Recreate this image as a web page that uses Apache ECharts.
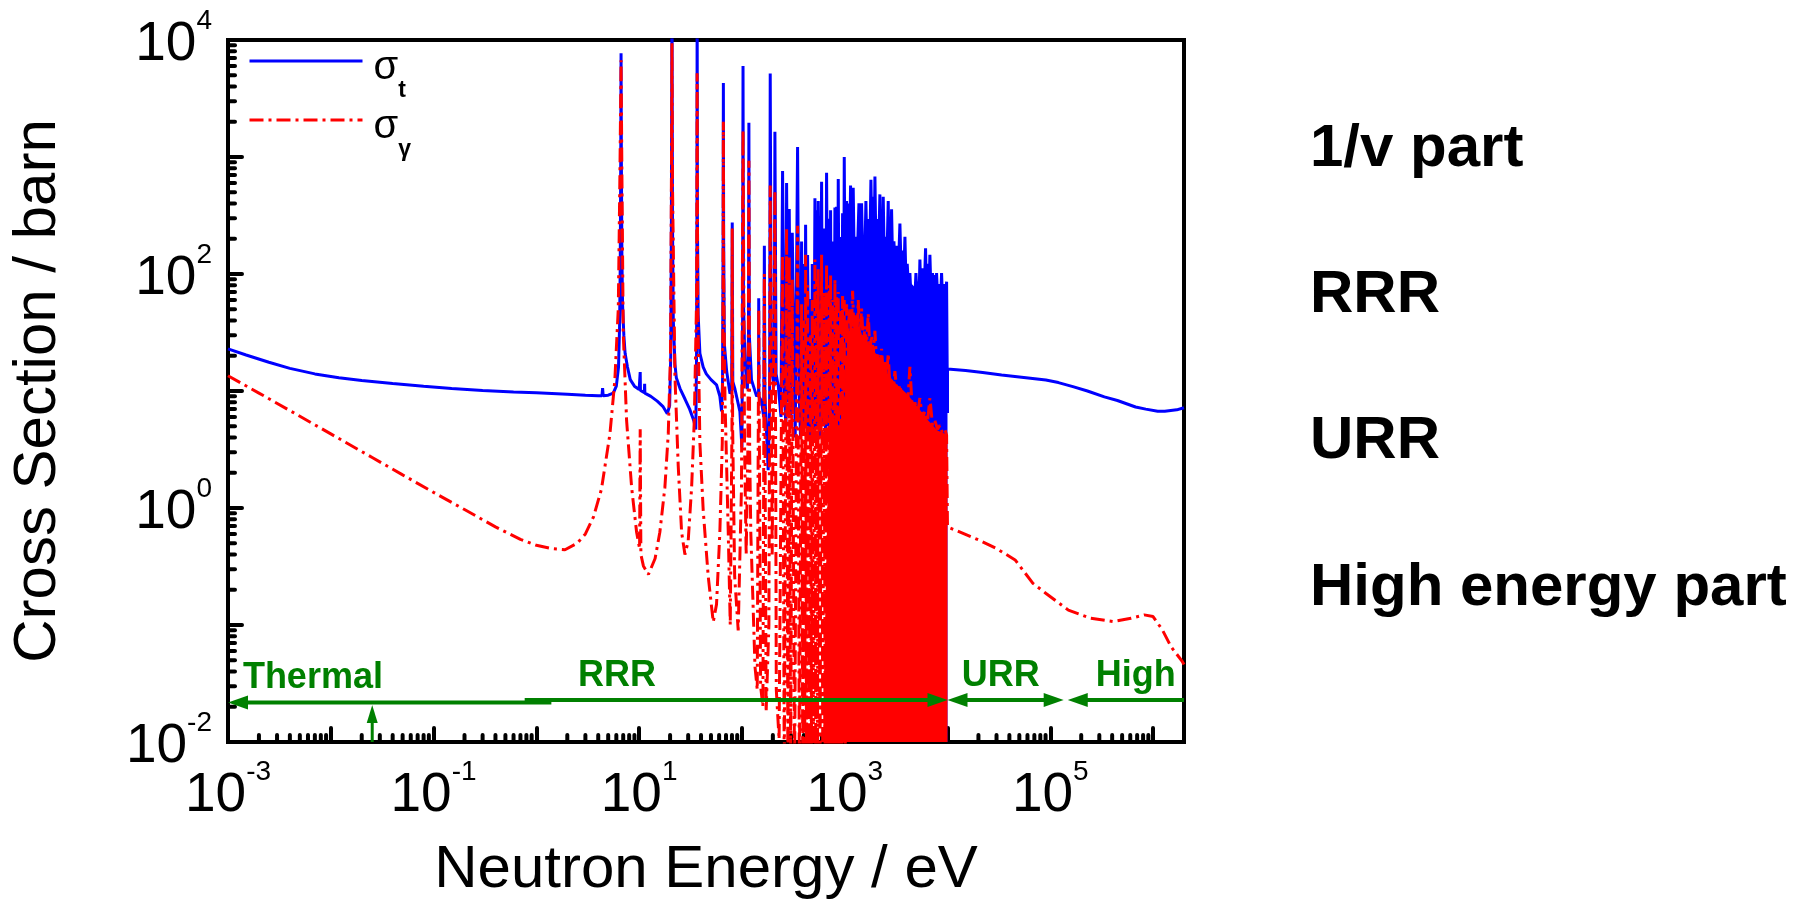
<!DOCTYPE html>
<html>
<head>
<meta charset="utf-8">
<script src="https://cdn.jsdelivr.net/npm/echarts@6/dist/echarts.min.js"></script>
<style>
html,body{margin:0;padding:0;background:#fff;}
#chart{width:1815px;height:907px;}
</style>
</head>
<body>
<div id="chart"></div>
<script>
const FONT = '"Liberation Sans", Arial, Helvetica, sans-serif';

// ---- total cross section (blue), [energy eV, barn] ----
const sigmaTotal = [
[0.001,22.9],[0.0015,20.3],[0.0025,17.6],[0.004,15.6],[0.007,14.0],[0.012,13.0],[0.02,12.3],[0.04,11.6],[0.08,11.0],[0.15,10.5],[0.3,10.1],[0.6,9.8],[1.0,9.65],[2.0,9.4],[3.0,9.2],[4.0,9.1],[4.35,9.1],[4.41,10.6],[4.47,9.1],[5.0,9.2],[5.6,9.6],[6.0,11],[6.3,16],[6.45,35],[6.55,120],[6.62,900],[6.67,7700],[6.72,900],[6.8,140],[6.9,55],[7.1,30],[7.3,21],[7.7,16],[8.2,12.5],[9.0,11.0],[10.0,10.3],[10.18,10.2],[10.24,14.5],[10.3,10.1],[11.25,9.7],[11.31,11.5],[11.37,9.6],[13,9.0],[15,8.2],[17,7.4],[18.8,6.4],[19.8,7.5],[20.3,20],[20.6,300],[20.87,30000],[21.1,300],[21.5,40],[22.3,17],[23,13],[25,10.5],[28,8.5],[31,7],[34,5.6],[35.6,4.7],[36.2,20],[36.5,300],[36.68,30000],[36.9,300],[37.5,45],[39,21],[42,16],[45,14],[50,12.5],[56.6,11.3],[61,9],[63.4,6.7],[64.8,12],[65.6,200],[66.0,4300],[66.4,200],[67.5,25],[71,14.8],[76.5,9.5],[79.5,10],[80.5,275],[81.5,12],[85.5,10.4],[95.5,6.7],[100,3.3],[101.5,40],[102.5,6000],[103.5,60],[107,17.6],[113,10.4],[115.8,30],[116.9,1960],[118,30],[124,12.4],[139,9.0],[145.2,9.5],[145.7,62],[146.3,9],[155,8.2],[163,6],[165.3,174],[167.5,9],[180,2.1],[186,8],[188.5,5160],[193,15],[199,13.5],[206,11],[209.4,1640],[215,14],[226,11],[240,6],[248.6,760],[260,9],[268,5],[272,600],[282,8],[288.7,360],[300,6],[308.9,225],[330,4],[347.9,1220],[360,10],[372,4],[380.6,190],[392,5],[401,122],[410,6],[416.4,263],[428,5],[435.4,145],[455,4],[465.6,61],[478,5],[483.3,122],[500,4],[513.1,445],[525,5],[532.6,350],[545,5],[552.8,420],[575,4],[595.9,615],[612,5],[628,245],[650,4],[666.2,735],[690,5],[707.3,296],[718,6],[728.8,350],[745,5],[762.2,190],[785,5],[803.1,370],[818,6],[833.7,376],[850,6],[865.3,650],[890,5],[911.8,207],[935,7],[953.6,330],[975,8],[989.9,1000],[1015,20],[1043,420],[1060,90],[1092,400],[1110,95],[1140,571],[1170,100],[1210,547],[1240,110],[1276,208],[1320,120],[1375,402],[1410,125],[1459,402],[1500,130],[1538,208],[1570,135],[1608,420],[1650,135],[1695,295],[1750,135],[1799,640],[1850,135],[1897,458],[1930,135],[1968,681],[2020,130],[2072,295],[2130,130],[2199,479],[2240,128],[2284,247],[2330,125],[2370,458],[2430,122],[2497,208],[2570,120],[2651,420],[2700,118],[2752,247],[2800,115],[2857,358],[2930,112],[3011,190],[3100,108],[3196,174],[3320,100],[3444,270],[3550,95],[3657,159],[3750,88],[3854,208],[3950,82],[4057,122],[4180,75],[4308,102],[4390,70],[4473,79],[4600,66],[4714,72],[4820,64],[4932,102],[5060,62],[5191,86],[5290,62],[5391,133],[5530,61],[5676,112],[5900,60],[6119,166],[6250,59],[6397,122],[6570,58],[6742,146],[6950,57],[7156,102],[7350,56],[7541,98],[7680,55],[7830,102],[8070,54],[8310,82],[8530,53],[8758,102],[9000,52],[9230,82],[9500,51],[9800,86],[10000,85],[10000,6.5],[10000,15.4],[15000,15.0],[22000,14.4],[33600,13.7],[50000,13.2],[90600,12.4],[120000,11.8],[166000,10.9],[230000,10.0],[336000,8.9],[450000,8.3],[676000,7.3],[850000,7.0],[1110000,6.7],[1300000,6.7],[1700000,6.9],[2000000,7.2]
];
// envelope of the unresolved-looking blue resonance forest (1-10 keV)
const totalBandTop = [[1000,105],[1300,150],[1800,155],[2500,140],[3200,120],[4000,92],[5000,74],[6500,67],[8000,62],[10000,58]];

// ---- capture cross section (red), [energy eV, barn] ----
const sigmaCapture = [
[0.001,13.5],[0.002,9.6],[0.004,6.8],[0.01,4.3],[0.0253,2.7],[0.05,1.92],[0.1,1.36],[0.2,0.97],[0.4,0.69],[0.7,0.54],[1.0,0.48],[1.4,0.45],[1.9,0.44],[2.5,0.5],[3.0,0.6],[3.6,0.84],[4.3,1.45],[5.2,4.3],[5.8,12.3],[6.27,51],[6.5,700],[6.67,6700],[6.8,700],[7.0,32],[7.55,5.6],[8.45,1.5],[9.45,0.62],[10.1,0.45],[10.24,4.7],[10.4,0.4],[11,0.32],[12.3,0.27],[14.3,0.37],[15.9,0.62],[17.8,1.5],[19.2,4.3],[20.2,21],[20.6,600],[20.87,9400],[21.1,600],[22.3,13.5],[24,2.3],[25.9,0.62],[27.9,0.4],[30,0.52],[32.4,1.5],[34.4,5.6],[36.2,60],[36.68,5200],[37.1,60],[39,3.6],[42,0.96],[47,0.26],[52.6,0.106],[56.6,0.15],[61,0.62],[64.4,3.6],[65.6,100],[66.0,2000],[66.4,100],[68.4,8.7],[73.6,0.62],[77,0.1],[80,5],[80.5,245],[81.2,5],[85,0.26],[92,0.09],[99,1.5],[102.5,1700],[106,3.6],[110,0.4],[114.5,3.6],[116.9,930],[119,3],[122,0.62],[134,0.044],[141,0.028],[145.7,50],[152,0.03],[160,0.02],[165.3,100],[172,0.018],[183,0.1],[188.5,570],[197,0.4],[209.4,520],[216,0.028],[230,0.0105],[248.6,145],[258,0.005],[272,245],[280,0.004],[288.7,140],[298,0.004],[308.9,90],[325,0.004],[347.9,258],[362,0.004],[380.6,55],[391,0.004],[401,40],[408,0.004],[416.4,146],[425,0.004],[435.4,80],[450,0.004],[465.6,30],[474,0.004],[483.3,60],[498,0.004],[513.1,133],[523,0.004],[532.6,90],[543,0.005],[552.8,110],[575,0.004],[595.9,146],[612,0.004],[628,70],[647,0.005],[666.2,122],[688,0.004],[707.3,80],[718,0.005],[728.8,100],[745,0.004],[762.2,60],[783,0.005],[803.1,90],[818,0.004],[833.7,65],[850,0.005],[865.3,70],[888,0.004],[911.8,50],[932,0.005],[953.6,65],[972,0.004],[989.9,60],[1010,0.004],[1043,55],[1060,30],[1123,50.7],[1160,30],[1193,72],[1235,30],[1276,46],[1315,28],[1354,60],[1400,27],[1459,50.7],[1520,25],[1573,35.6],[1630,24],[1694,46],[1760,22],[1826,29.9],[1900,21],[1967,32.6],[2040,18],[2120,21],[2200,16],[2284,22.9],[2370,14],[2461,17.6],[2550,13],[2652,21],[2750,11],[2858,12.4],[2960,10],[3079,14.8],[3250,9],[3444,11.3],[3650,8],[3852,9.5],[4080,7.5],[4309,16.1],[4550,6.8],[4819,8],[5100,6.3],[5390,8.7],[5700,5.8],[6029,6.7],[6400,5.5],[6744,8.7],[7150,5.1],[7543,5.6],[8000,4.7],[8438,5.1],[8900,4.4],[9437,4.7],[9800,4.2],[10000,4.3],[10000,0.69],[20400,0.53],[30000,0.45],[45500,0.36],[67800,0.227],[91000,0.186],[150000,0.134],[248000,0.114],[410000,0.107],[610000,0.114],[820000,0.122],[1000000,0.118],[1230000,0.091],[1500000,0.065],[1930000,0.0486],[2000000,0.046]
];
// envelope of the dense red resonance forest
const captureBandTop = [[620,0.02],[700,4],[800,14],[900,24],[1000,31],[1200,34],[1500,30],[2000,21],[2500,15],[3000,12],[4000,9.5],[5000,7.5],[6500,5.6],[8000,4.6],[10000,4.2]];

// ---- energy-region annotations ----
const regionNames   = ['Thermal', 'RRR', 'URR', 'High'];
const regionFrom    = [0.001, 0.77, 1e4, 1.48e5];
const regionTo      = [1.4, 1e4, 1.35e5, 2e6];
const regionLevel   = [0.0218, 0.0229, 0.0229, 0.0229];
const regionLabelAt = [6.7e-3, 6.1, 3.3e4, 6.8e5];
const headAtStart   = [true, false, true, true];
const headAtEnd     = [false, true, true, false];
const thermalEnergy = 0.0253;
const thermalArrowTop = 0.0207;

// ---- side text ----
const sideNotes = ['1/v part', 'RRR', 'URR', 'High energy part'];
const sideNoteY = [149, 295, 441, 588];

// ---- axis ranges ----
const xMin = 1e-3, xMax = 2e6, yMin = 1e-2, yMax = 1e4;

const xMinorTicks = [];
for (let d = -3; d <= 6; d++) for (let m = 2; m <= 9; m++) { const v = m * Math.pow(10, d); if (v < xMax) xMinorTicks.push([v, yMin]); }
const yMinorTicks = [];
for (let d = -2; d <= 3; d++) for (let m = 2; m <= 9; m++) { yMinorTicks.push([xMin, m * Math.pow(10, d)]); }

const GREEN = '#008000', BLUE = '#0000ff', RED = '#ff0000';
const DASHDOT = [14, 5, 3, 5];

function powLabel(showOdd) {
  return function (v) {
    const l = Math.log10(v);
    const e = Math.round(l);
    if (Math.abs(l - e) > 1e-6) return '';
    const odd = Math.abs(e % 2) === 1;
    if (odd !== showOdd) return '';
    return '{b|10}{e|' + e + '}';
  };
}
const labelRich = {
  b: { fontFamily: FONT, fontSize: 55, color: '#000', padding: [10, 0, 0, 0] },
  e: { fontFamily: FONT, fontSize: 28, color: '#000', verticalAlign: 'top' }
};
function axisCommon() {
  return {
    type: 'log', logBase: 10,
    axisLine: { show: true, onZero: false, lineStyle: { color: '#000', width: 4 } },
    axisTick: { show: true, inside: true, length: 14, lineStyle: { color: '#000', width: 4, cap: 'round' } },
    minorTick: { show: false },
    splitLine: { show: false },
    minorSplitLine: { show: false },
    nameTextStyle: { fontFamily: FONT, fontSize: 60, color: '#000' }
  };
}

const chart = echarts.init(document.getElementById('chart'), null, { renderer: 'canvas' });

const legendRich = () => ({
  s: { fontFamily: FONT, fontSize: 40, color: '#000', padding: [28, 0, 14, 6], verticalAlign: 'bottom' },
  sub: { fontFamily: FONT, fontSize: 23, fontWeight: 'bold', color: '#000', verticalAlign: 'bottom' }
});

const option = {
  animation: false,
  backgroundColor: '#ffffff',
  grid: { left: 228, right: 631, top: 40, bottom: 165, show: true, borderColor: '#000', borderWidth: 4, backgroundColor: 'transparent', containLabel: false, outerBoundsMode: 'none' },
  xAxis: Object.assign(axisCommon(), {
    min: xMin, max: xMax, splitNumber: 10,
    name: 'Neutron Energy / eV', nameLocation: 'middle', nameGap: 98,
    axisLabel: { margin: 16, formatter: powLabel(true), rich: labelRich, color: '#000' }
  }),
  yAxis: Object.assign(axisCommon(), {
    min: yMin, max: yMax, splitNumber: 6,
    name: 'Cross Section / barn', nameLocation: 'middle', nameGap: 160,
    axisLabel: { margin: 16, formatter: powLabel(false), rich: labelRich, color: '#000' }
  }),
  legend: [
    { data: ['σt'], left: 248, top: 48, orient: 'vertical', padding: 0, itemWidth: 113, itemHeight: 14, selectedMode: false,
      formatter: '{s|σ}{sub|t}', textStyle: { rich: legendRich() },
      lineStyle: { width: 3, color: BLUE, type: 'solid' }, itemStyle: { opacity: 0, borderWidth: 0 } },
    { data: ['σγ'], left: 248, top: 107, orient: 'vertical', padding: 0, itemWidth: 113, itemHeight: 14, selectedMode: false,
      formatter: '{s|σ}{sub|γ}', textStyle: { rich: legendRich() },
      lineStyle: { width: 3, color: RED, type: DASHDOT }, itemStyle: { opacity: 0, borderWidth: 0 } }
  ],
  graphic: sideNotes.map((t, i) => ({
    type: 'text', x: 1310, y: sideNoteY[i], silent: true,
    style: { text: t, fontFamily: FONT, fontSize: 60, fontWeight: 'bold', fill: '#000', align: 'left', verticalAlign: 'middle' }
  })),
  series: [
    { name: 'xMinor', type: 'custom', coordinateSystem: 'cartesian2d', z: 1, silent: true, data: xMinorTicks,
      renderItem: (params, api) => {
        const p = api.coord([api.value(0), api.value(1)]);
        return { type: 'line', shape: { x1: p[0], y1: p[1], x2: p[0], y2: p[1] - 7 }, style: { stroke: '#000', lineWidth: 4, lineCap: 'round' } };
      } },
    { name: 'yMinor', type: 'custom', coordinateSystem: 'cartesian2d', z: 1, silent: true, data: yMinorTicks,
      renderItem: (params, api) => {
        const p = api.coord([api.value(0), api.value(1)]);
        return { type: 'line', shape: { x1: p[0], y1: p[1], x2: p[0] + 7, y2: p[1] }, style: { stroke: '#000', lineWidth: 4, lineCap: 'round' } };
      } },
    { name: 'totalBand', type: 'line', data: totalBandTop, symbol: 'none', showSymbol: false, silent: true, z: 2,
      lineStyle: { width: 0, color: BLUE }, areaStyle: { color: BLUE, opacity: 1, origin: 'start' } },
    { name: 'σt', type: 'line', data: sigmaTotal, symbol: 'none', showSymbol: false, z: 2,
      lineStyle: { color: BLUE, width: 3 }, itemStyle: { color: BLUE } },
    { name: 'captureBand', type: 'line', data: captureBandTop, symbol: 'none', showSymbol: false, silent: true, z: 2,
      lineStyle: { width: 0, color: RED }, areaStyle: { color: RED, opacity: 1, origin: 'start' } },
    { name: 'σγ', type: 'line', data: sigmaCapture, symbol: 'none', showSymbol: false, z: 2,
      lineStyle: { color: RED, width: 3, type: DASHDOT }, itemStyle: { color: RED } },
    { name: 'regions', type: 'custom', coordinateSystem: 'cartesian2d', z: 5, silent: true,
      data: regionNames.map((n, i) => [regionFrom[i], regionLevel[i], i]),
      renderItem: (params, api) => {
        const i = params.dataIndex;
        const a = api.coord([regionFrom[i], regionLevel[i]]);
        const b = api.coord([regionTo[i], regionLevel[i]]);
        const L = 20, H = 7;
        const kids = [];
        kids.push({ type: 'line', shape: { x1: a[0] + (headAtStart[i] ? L - 2 : 0), y1: a[1], x2: b[0] - (headAtEnd[i] ? L - 2 : 0), y2: b[1] },
          style: { stroke: GREEN, lineWidth: 4 } });
        if (headAtStart[i]) kids.push({ type: 'polygon', shape: { points: [[a[0], a[1]], [a[0] + L, a[1] - H], [a[0] + L, a[1] + H]] }, style: { fill: GREEN } });
        if (headAtEnd[i]) kids.push({ type: 'polygon', shape: { points: [[b[0], b[1]], [b[0] - L, b[1] - H], [b[0] - L, b[1] + H]] }, style: { fill: GREEN } });
        const c = api.coord([regionLabelAt[i], regionLevel[i]]);
        kids.push({ type: 'text', x: c[0], y: c[1] - 6,
          style: { text: regionNames[i], fontFamily: FONT, fontSize: 36, fontWeight: 'bold', fill: GREEN, align: 'center', verticalAlign: 'bottom' } });
        return { type: 'group', children: kids };
      } },
    { name: 'thermalPoint', type: 'custom', coordinateSystem: 'cartesian2d', z: 5, silent: true,
      data: [[thermalEnergy, yMin]],
      renderItem: (params, api) => {
        const base = api.coord([thermalEnergy, yMin]);
        const tip = api.coord([thermalEnergy, thermalArrowTop]);
        return { type: 'group', children: [
          { type: 'line', shape: { x1: base[0], y1: base[1], x2: tip[0], y2: tip[1] + 16 }, style: { stroke: GREEN, lineWidth: 3 } },
          { type: 'polygon', shape: { points: [[tip[0], tip[1]], [tip[0] - 5.5, tip[1] + 18], [tip[0] + 5.5, tip[1] + 18]] }, style: { fill: GREEN } }
        ] };
      } }
  ]
};
chart.setOption(option);
</script>
</body>
</html>
